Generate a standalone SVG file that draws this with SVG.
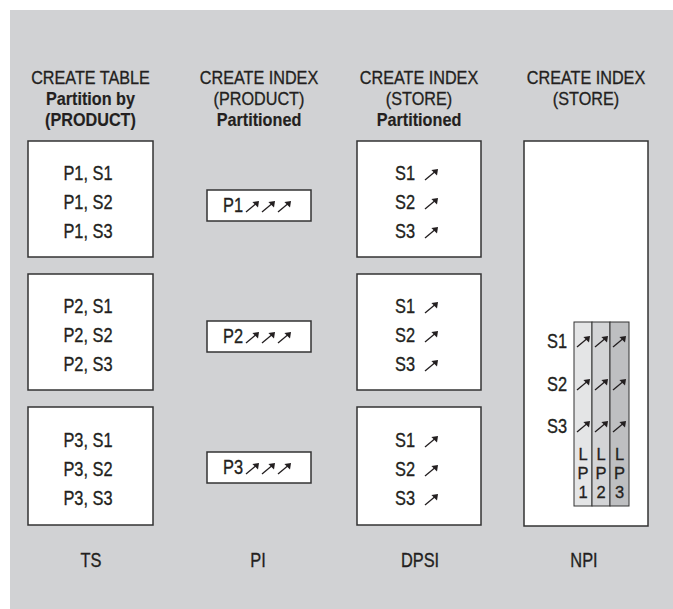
<svg xmlns="http://www.w3.org/2000/svg" width="673" height="609" viewBox="0 0 673 609">
<style>
text{font-family:"Liberation Sans",Arial,sans-serif;font-size:21px;fill:#231f20;stroke:#231f20;stroke-width:0.35}
.h{font-size:18px;stroke-width:0.3}
.b{font-weight:bold;stroke-width:0.15}
.m{text-anchor:middle}
.lp{font-size:16.5px;stroke-width:0.3}
.box{fill:#fff;stroke:#333;stroke-width:1.5}
.col{stroke:#333;stroke-width:1}
</style>
<defs>
<g id="arr">
<path d="M0,0 L10.2,-8.6" stroke="#231f20" stroke-width="1.3" fill="none"/>
<polygon points="13,-11 6.4,-10 12,-4.4" fill="#231f20"/>
</g>
</defs>
<rect x="10" y="10" width="663" height="599" fill="#d1d2d4"/>

<g id="headers">
<text class="m h" transform="translate(90.5 84) scale(0.9 1)">CREATE TABLE</text>
<text class="m h b" transform="translate(90.5 105) scale(0.9 1)">Partition by</text>
<text class="m h b" transform="translate(90.5 126) scale(0.9 1)">(PRODUCT)</text>
<text class="m h" transform="translate(259 84) scale(0.9 1)">CREATE INDEX</text>
<text class="m h" transform="translate(259 105) scale(0.9 1)">(PRODUCT)</text>
<text class="m h b" transform="translate(259 126) scale(0.9 1)">Partitioned</text>
<text class="m h" transform="translate(419 84) scale(0.9 1)">CREATE INDEX</text>
<text class="m h" transform="translate(419 105) scale(0.9 1)">(STORE)</text>
<text class="m h b" transform="translate(419 126) scale(0.9 1)">Partitioned</text>
<text class="m h" transform="translate(586 84) scale(0.9 1)">CREATE INDEX</text>
<text class="m h" transform="translate(586 105) scale(0.9 1)">(STORE)</text>
</g>

<g id="ts1">
<rect class="box" x="28" y="141" width="125" height="116"/>
<text class="m" transform="translate(88 180) scale(0.78 1)">P1, S1</text>
<text class="m" transform="translate(88 209) scale(0.78 1)">P1, S2</text>
<text class="m" transform="translate(88 238) scale(0.78 1)">P1, S3</text>
</g>
<g id="ts2">
<rect class="box" x="28" y="274" width="125" height="116"/>
<text class="m" transform="translate(88 313) scale(0.78 1)">P2, S1</text>
<text class="m" transform="translate(88 342) scale(0.78 1)">P2, S2</text>
<text class="m" transform="translate(88 371) scale(0.78 1)">P2, S3</text>
</g>
<g id="ts3">
<rect class="box" x="28" y="407" width="125" height="118"/>
<text class="m" transform="translate(88 447) scale(0.78 1)">P3, S1</text>
<text class="m" transform="translate(88 476) scale(0.78 1)">P3, S2</text>
<text class="m" transform="translate(88 505) scale(0.78 1)">P3, S3</text>
</g>

<g id="pi1">
<rect class="box" x="207" y="190" width="104" height="31"/>
<text transform="translate(223 212) scale(0.78 1)">P1</text>
<use href="#arr" x="246" y="212"/><use href="#arr" x="262" y="212"/><use href="#arr" x="278" y="212"/>
</g>
<g id="pi2">
<rect class="box" x="207" y="321" width="104" height="31"/>
<text transform="translate(223 343) scale(0.78 1)">P2</text>
<use href="#arr" x="246" y="343"/><use href="#arr" x="262" y="343"/><use href="#arr" x="278" y="343"/>
</g>
<g id="pi3">
<rect class="box" x="207" y="452" width="104" height="31"/>
<text transform="translate(223 474) scale(0.78 1)">P3</text>
<use href="#arr" x="246" y="474"/><use href="#arr" x="262" y="474"/><use href="#arr" x="278" y="474"/>
</g>

<g id="dpsi1">
<rect class="box" x="357" y="141" width="124" height="116"/>
<text transform="translate(395 180) scale(0.78 1)">S1</text>
<text transform="translate(395 209) scale(0.78 1)">S2</text>
<text transform="translate(395 238) scale(0.78 1)">S3</text>
<use href="#arr" x="425" y="180"/><use href="#arr" x="425" y="209"/><use href="#arr" x="425" y="238"/>
</g>
<g id="dpsi2">
<rect class="box" x="357" y="274" width="124" height="116"/>
<text transform="translate(395 313) scale(0.78 1)">S1</text>
<text transform="translate(395 342) scale(0.78 1)">S2</text>
<text transform="translate(395 371) scale(0.78 1)">S3</text>
<use href="#arr" x="425" y="313"/><use href="#arr" x="425" y="342"/><use href="#arr" x="425" y="371"/>
</g>
<g id="dpsi3">
<rect class="box" x="357" y="407" width="124" height="118"/>
<text transform="translate(395 447) scale(0.78 1)">S1</text>
<text transform="translate(395 476) scale(0.78 1)">S2</text>
<text transform="translate(395 505) scale(0.78 1)">S3</text>
<use href="#arr" x="425" y="447"/><use href="#arr" x="425" y="476"/><use href="#arr" x="425" y="505"/>
</g>

<g id="npi">
<rect class="box" x="524" y="141" width="124" height="385"/>
<rect class="col" x="574" y="322" width="18" height="184" fill="#e4e5e6"/>
<rect class="col" x="592" y="322" width="18" height="184" fill="#d3d4d6"/>
<rect class="col" x="610" y="322" width="19" height="184" fill="#bebfc1"/>
<text transform="translate(547 348) scale(0.78 1)">S1</text>
<text transform="translate(547 391) scale(0.78 1)">S2</text>
<text transform="translate(547 433) scale(0.78 1)">S3</text>
<use href="#arr" x="577" y="347"/><use href="#arr" x="595" y="347"/><use href="#arr" x="613" y="347"/>
<use href="#arr" x="577" y="390"/><use href="#arr" x="595" y="390"/><use href="#arr" x="613" y="390"/>
<use href="#arr" x="577" y="432"/><use href="#arr" x="595" y="432"/><use href="#arr" x="613" y="432"/>
<text class="m lp" x="583" y="460">L</text><text class="m lp" x="583" y="479">P</text><text class="m lp" x="583" y="498">1</text>
<text class="m lp" x="601" y="460">L</text><text class="m lp" x="601" y="479">P</text><text class="m lp" x="601" y="498">2</text>
<text class="m lp" x="619.5" y="460">L</text><text class="m lp" x="619.5" y="479">P</text><text class="m lp" x="619.5" y="498">3</text>
</g>

<g id="labels">
<text class="m" transform="translate(91 567) scale(0.78 1)">TS</text>
<text class="m" transform="translate(258 567) scale(0.78 1)">PI</text>
<text class="m" transform="translate(420 567) scale(0.78 1)">DPSI</text>
<text class="m" transform="translate(584 567) scale(0.78 1)">NPI</text>
</g>
<g id="connectors"/>
</svg>
